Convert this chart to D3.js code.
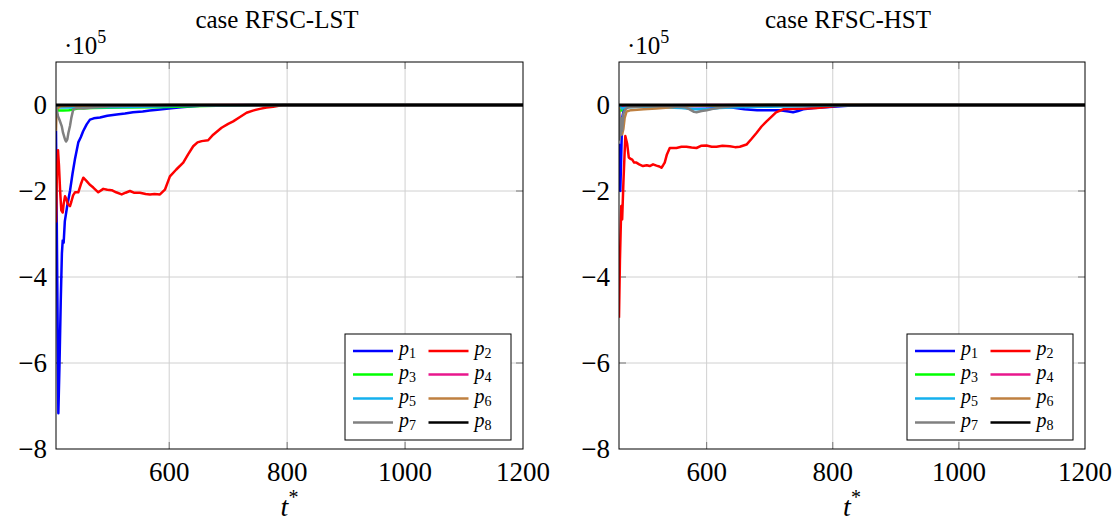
<!DOCTYPE html>
<html><head><meta charset="utf-8">
<script src="https://cdn.jsdelivr.net/npm/d3@7"></script>
<style>
body{margin:0;background:#fff}
text{font-family:"Liberation Serif","Times New Roman",serif;fill:#000}
</style>
</head><body>
<svg id="chart" width="1119" height="521"></svg>
<script>
// ---------- data (values in units of 1e5) ----------
const seriesNames = ["1","2","3","4","5","6","7","8"];
const seriesColors = ["#0000ff","#ff0000","#00ff00","#e8168c","#14b0ee","#bf8040","#808080","#000000"];
const xTicks = [600, 800, 1000, 1200];
const yTicks = [0, -2, -4, -6, -8];
const titles = ["case RFSC-LST", "case RFSC-HST"];

const lst_p1 = [[408,-0.6],[412,-7.17],[414,-6.0],[416,-4.6],[418,-3.45],[419.4,-3.15],[421,-3.2],[423,-2.7],[427,-2.35],[431.7,-2.0],[436,-1.6],[440,-1.27],[445.8,-0.87],[450,-0.75],[454,-0.61],[460,-0.45],[465.6,-0.34],[472,-0.31],[482.6,-0.29],[495,-0.25],[511,-0.22],[525,-0.2],[538.5,-0.17],[555,-0.15],[567,-0.13],[580,-0.11],[595.5,-0.09],[620,-0.05],[652,-0.02],[700,-0.005],[800,0],[1200,0]];
const lst_p2 = [[408,-2.73],[409.5,-1.6],[411.4,-1.05],[413,-1.4],[415,-2.0],[417,-2.45],[419.4,-2.5],[421,-2.3],[423.3,-2.12],[426,-2.2],[428,-2.3],[431.7,-2.35],[434,-2.25],[437,-2.1],[440.2,-2.03],[445.8,-2.03],[450,-1.85],[454.3,-1.69],[460,-1.77],[465,-1.85],[471.2,-1.92],[479.7,-2.03],[488.2,-1.95],[495,-1.97],[502.4,-1.98],[510,-2.03],[519.4,-2.08],[526,-2.04],[533.4,-2.0],[540,-2.04],[550.4,-2.04],[560,-2.07],[567.3,-2.08],[575,-2.07],[584.3,-2.08],[592.7,-1.97],[601.2,-1.66],[612,-1.5],[623.8,-1.34],[632,-1.15],[640.7,-0.96],[648,-0.87],[655,-0.84],[666,-0.82],[674.6,-0.69],[688.8,-0.53],[700,-0.44],[708.5,-0.38],[720,-0.28],[731.2,-0.18],[742,-0.13],[753.8,-0.09],[765,-0.06],[776.3,-0.04],[792.7,0],[1200,0]];
const lst_p3 = [[408,-0.05],[412,-0.13],[420,-0.13],[430,-0.12],[445,-0.08],[470,-0.07],[520,-0.06],[580,-0.05],[640,-0.03],[700,-0.01],[750,0],[1200,0]];
const lst_p4 = [[408,0],[415,-0.04],[430,-0.03],[480,-0.02],[600,-0.01],[700,0],[1200,0]];
const lst_p5 = [[408,-0.02],[415,-0.06],[430,-0.06],[460,-0.05],[500,-0.05],[560,-0.04],[620,-0.02],[680,-0.01],[750,0],[1200,0]];
const lst_p6 = [[408,-0.6],[409,-0.1],[415,-0.03],[440,-0.02],[500,-0.01],[600,0],[1200,0]];
const lst_p7 = [[408,-0.02],[411.4,-0.26],[414,-0.35],[417.7,-0.49],[420,-0.65],[423.3,-0.8],[425,-0.85],[427.2,-0.8],[429,-0.65],[431.7,-0.49],[434,-0.3],[437.3,-0.1],[443,-0.07],[455,-0.08],[470,-0.06],[500,-0.03],[550,-0.01],[600,0],[1200,0]];
const lst_p8 = [[408,0],[1200,0]];

const hst_p1 = [[461,-0.9],[462,-1.85],[463,-2.0],[464,-1.5],[466,-0.3],[468,-0.15],[472,-0.05],[480,-0.03],[520,-0.02],[600,-0.03],[640,-0.06],[660,-0.1],[680,-0.12],[700,-0.12],[716,-0.12],[730,-0.15],[737,-0.17],[745,-0.14],[753,-0.1],[770,-0.07],[800,-0.04],[830,-0.01],[860,0],[1200,0]];
const hst_p2 = [[461,-4.95],[462.5,-3.6],[464.6,-2.35],[466,-2.66],[468,-1.8],[471,-0.72],[474,-0.91],[476.5,-1.22],[479,-1.25],[482,-1.27],[485,-1.34],[488.6,-1.34],[493,-1.38],[499,-1.42],[505,-1.4],[509.7,-1.42],[515,-1.38],[520.4,-1.41],[525,-1.43],[528.3,-1.46],[531,-1.4],[533.5,-1.34],[537,-1.15],[541.5,-1.0],[552,-1.0],[560,-0.97],[568,-0.97],[576,-0.99],[583.9,-1.0],[591,-0.95],[599.7,-0.94],[608,-0.97],[615.6,-0.97],[625,-0.95],[636.7,-0.96],[645,-0.98],[652.6,-0.97],[663.2,-0.92],[671,-0.79],[679,-0.65],[687,-0.5],[695,-0.38],[703,-0.27],[710,-0.17],[721.3,-0.1],[742.6,-0.09],[760,-0.08],[774.3,-0.07],[795,-0.04],[816.6,0],[1200,0]];
const hst_p3 = [[461,-0.05],[462,-0.15],[465,-0.12],[468,-0.03],[475,-0.02],[520,-0.01],[600,-0.01],[700,0],[1200,0]];
const hst_p4 = [[461,0],[465,-0.03],[480,-0.01],[600,0],[1200,0]];
const hst_p5 = [[461,-0.02],[466,-0.08],[475,-0.05],[500,-0.04],[560,-0.07],[580,-0.1],[600,-0.1],[620,-0.07],[650,-0.05],[700,-0.04],[750,-0.03],[800,-0.01],[850,0],[1200,0]];
const hst_p6 = [[461,-0.05],[462,-0.3],[464,-0.5],[466,-0.68],[468,-0.55],[470,-0.3],[473,-0.15],[480,-0.12],[500,-0.1],[520,-0.08],[545,-0.05],[560,-0.03],[600,-0.01],[650,0],[1200,0]];
const hst_p7 = [[461,-0.1],[462,-0.8],[463,-0.4],[464,-0.7],[465,-0.3],[466,-0.6],[468,-0.2],[471,-0.1],[476,-0.05],[500,-0.03],[540,-0.03],[565,-0.05],[573,-0.1],[580,-0.16],[584,-0.17],[592,-0.14],[600,-0.12],[610,-0.09],[625,-0.05],[650,-0.02],[700,0],[1200,0]];
const hst_p8 = [[461,0],[1200,0]];

const lstSeries = [lst_p1,lst_p2,lst_p3,lst_p4,lst_p5,lst_p6,lst_p7,lst_p8];
const hstSeries = [hst_p1,hst_p2,hst_p3,hst_p4,hst_p5,hst_p6,hst_p7,hst_p8];

// ---------- layout ----------
const svg = d3.select("#chart");
const panels = [
  {x0:56, x1:523, tmin:408, series:lstSeries, title:titles[0], titleX:277},
  {x0:619, x1:1085, tmin:461, series:hstSeries, title:titles[1], titleX:848}
];
const yTop = 62, yBot = 449;

panels.forEach((p, pi) => {
  const x = d3.scaleLinear().domain([p.tmin, 1200]).range([p.x0, p.x1]);
  const y = d3.scaleLinear().domain([-8, 1]).range([yBot, yTop]);
  const g = svg.append("g");

  // grid
  g.selectAll(".gx").data(xTicks.filter(t => t < 1200)).enter().append("line")
    .attr("x1", d => x(d)).attr("x2", d => x(d)).attr("y1", yTop).attr("y2", yBot)
    .attr("stroke", "#d0d0d0").attr("stroke-width", 1);
  g.selectAll(".gy").data(yTicks.filter(v => v > -8)).enter().append("line")
    .attr("x1", p.x0).attr("x2", p.x1).attr("y1", d => y(d)).attr("y2", d => y(d))
    .attr("stroke", "#d0d0d0").attr("stroke-width", 1);

  // inside ticks
  const tl = 7;
  xTicks.filter(t => t < 1200).forEach(t => {
    g.append("line").attr("x1", x(t)).attr("x2", x(t)).attr("y1", yBot).attr("y2", yBot - tl).attr("stroke", "#777");
    g.append("line").attr("x1", x(t)).attr("x2", x(t)).attr("y1", yTop).attr("y2", yTop + tl).attr("stroke", "#777");
  });
  yTicks.filter(v => v > -8).forEach(v => {
    g.append("line").attr("x1", p.x0).attr("x2", p.x0 + tl).attr("y1", y(v)).attr("y2", y(v)).attr("stroke", "#777");
    g.append("line").attr("x1", p.x1).attr("x2", p.x1 - tl).attr("y1", y(v)).attr("y2", y(v)).attr("stroke", "#777");
  });

  // clip
  const cid = "clip" + pi;
  svg.append("defs").append("clipPath").attr("id", cid).append("rect")
    .attr("x", p.x0).attr("y", yTop).attr("width", p.x1 - p.x0).attr("height", yBot - yTop);

  const line = d3.line().x(d => x(d[0])).y(d => y(d[1]));
  const lg = g.append("g").attr("clip-path", `url(#${cid})`);
  p.series.forEach((s, i) => {
    lg.append("path").datum(s).attr("d", line)
      .attr("fill", "none").attr("stroke", seriesColors[i])
      .attr("stroke-width", i === 7 ? 3.2 : 2.5).attr("stroke-linejoin", "round");
  });

  // frame
  g.append("rect").attr("x", p.x0).attr("y", yTop).attr("width", p.x1 - p.x0).attr("height", yBot - yTop)
    .attr("fill", "none").attr("stroke", "#000").attr("stroke-width", 1);

  // tick labels
  xTicks.forEach(t => {
    g.append("text").attr("x", x(t)).attr("y", 481).attr("text-anchor", "middle")
      .attr("font-size", 27).text(t);
  });
  yTicks.forEach(v => {
    g.append("text").attr("x", p.x0 - 9).attr("y", y(v) + 9).attr("text-anchor", "end")
      .attr("font-size", 27).text(v === 0 ? "0" : "\u2212" + Math.abs(v));
  });

  // multiplier
  const m = g.append("text").attr("x", p.x0 + 8).attr("y", 54).attr("font-size", 25);
  m.append("tspan").text("\u00b710");
  m.append("tspan").attr("font-size", 18).attr("dy", -11).text("5");

  // title
  g.append("text").attr("x", p.titleX).attr("y", 28).attr("text-anchor", "middle")
    .attr("font-size", 25).text(p.title);

  // x label
  const xl = g.append("text").attr("x", (p.x0 + p.x1) / 2).attr("y", 516).attr("text-anchor", "middle").attr("font-size", 28);
  xl.append("tspan").attr("font-style", "italic").text("t");
  xl.append("tspan").attr("font-size", 20).attr("dy", -12).text("*");

  // legend
  const bw = 166, bh = 106;
  const bx = p.x1 - 12 - bw, by = yBot - 9 - bh;
  const leg = g.append("g");
  leg.append("rect").attr("x", bx).attr("y", by).attr("width", bw).attr("height", bh)
    .attr("fill", "#fff").attr("stroke", "#000").attr("stroke-width", 1);
  const rowY = [17, 40.5, 64.5, 88.5];
  const colX = [8, 83.5];
  seriesNames.forEach((n, i) => {
    const r = Math.floor(i / 2), c = i % 2;
    const lx = bx + colX[c], ly = by + rowY[r];
    leg.append("line").attr("x1", lx).attr("x2", lx + 40).attr("y1", ly).attr("y2", ly)
      .attr("stroke", seriesColors[i]).attr("stroke-width", 2.5);
    const t = leg.append("text").attr("x", lx + 46).attr("y", ly + 4).attr("font-size", 20);
    t.append("tspan").attr("font-style", "italic").text("p");
    t.append("tspan").attr("font-size", 14).attr("dy", 3).text(n);
  });
});
</script>
</body></html>
